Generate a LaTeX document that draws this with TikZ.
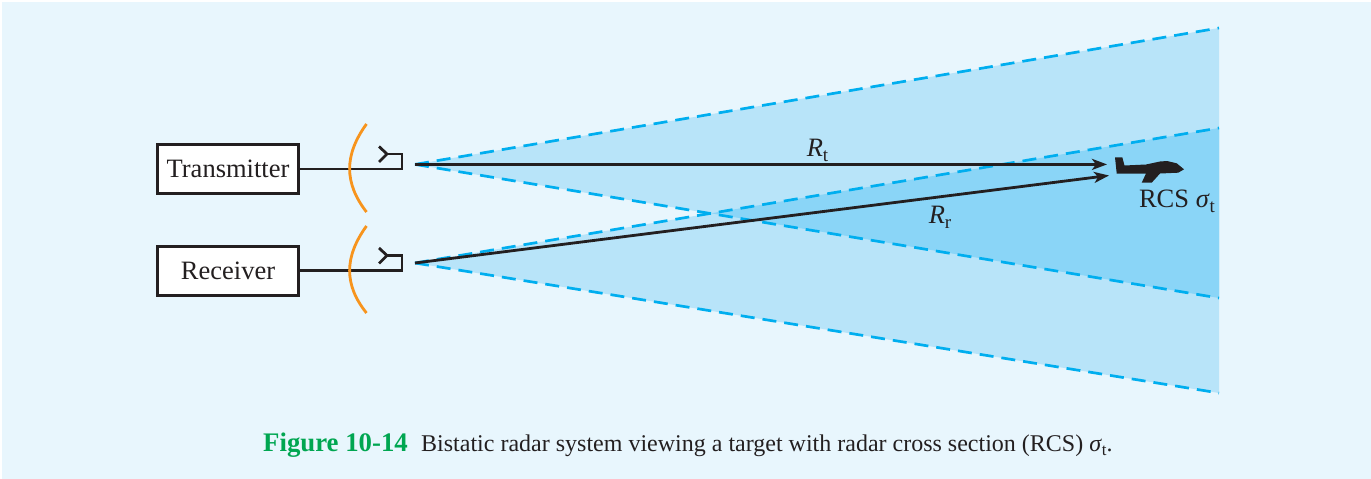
\documentclass[tikz,border=0pt]{standalone}
\usepackage{fontspec}
\setmainfont{Liberation Serif}
\definecolor{bgc}{HTML}{E8F6FD}
\definecolor{beamc}{HTML}{B8E4F9}
\definecolor{overc}{HTML}{8AD5F7}
\definecolor{dashc}{HTML}{00AEEF}
\definecolor{dishc}{HTML}{F7941D}
\definecolor{inkc}{HTML}{231F20}
\definecolor{figc}{HTML}{00A651}
\usetikzlibrary{arrows.meta}
\tikzset{
  unitbox/.style={draw=inkc,line width=3pt,fill=white,minimum width=141pt,minimum height=49pt,inner sep=0pt,text=inkc,font=\fontsize{26.5}{30}\selectfont},
  feedline/.style={draw=inkc,line width=2.8pt,line join=miter},
  dish/.style={draw=dishc,line width=2.8pt},
  beamedge/.style={draw=dashc,line width=2.7pt,dash pattern=on 14pt off 8pt},
  ray/.style={draw=inkc,line width=2.8pt,-{Stealth[length=15pt,width=11pt,inset=4pt]},shorten >=0pt},
  lbl/.style={text=inkc,inner sep=0pt,font=\fontsize{26.5}{30}\selectfont}
}
\begin{document}
\begin{tikzpicture}[x=1pt,y=-1pt]
\useasboundingbox (0,0) rectangle (1371,479);
\fill[white] (0,0) rectangle (1371,479);
\fill[bgc] (2,2) rectangle (1371,479);
% named points
\coordinate (ta) at (415,164.4);
\coordinate (ra) at (415,263);
\coordinate (t1) at (1219,28);
\coordinate (t2) at (1219,298);
\coordinate (r1) at (1219,128);
\coordinate (r2) at (1219,393);
\coordinate (xc) at (711,213.3);
% beams
\fill[beamc] (ta) -- (t1) -- (t2) -- cycle;
\fill[beamc] (ra) -- (r1) -- (r2) -- cycle;
\fill[overc] (xc) -- (r1) -- (t2) -- cycle;
\draw[beamedge] (ta) -- (t1);
\draw[beamedge] (ta) -- (t2);
\draw[beamedge] (ra) -- (r1);
\draw[beamedge] (ra) -- (r2);
% units
\node[unitbox] (tx) at (228,169) {Transmitter};
\node[unitbox] (rx) at (228,270.5) {Receiver};
% feeds
\coordinate (tc) at (402,169);
\coordinate (tf) at (387,154);
\coordinate (rc) at (402,270.5);
\coordinate (rf) at (387,255.5);
\draw[feedline] (tx.east) -- (tc) -- (402,154) -- (tf);
\draw[feedline] (379,146.5) -- (tf) -- (379,162);
\draw[feedline] (rx.east) -- (rc) -- (402,255.5) -- (rf);
\draw[feedline] (379,248) -- (rf) -- (379,263.5);
% dishes
\draw[dish] (366.5,124) .. controls (344,155) and (344,183) .. (366.5,212);
\draw[dish] (366.5,226) .. controls (344,257) and (344,285) .. (366.5,313);
% aircraft
\coordinate (pl) at (1107,164.4);
\coordinate (pr) at (1109,175.5);
\fill[inkc] (1115,157.3) -- (1122.3,157.3) -- (1124.5,165.5) -- (1146,164.5) -- (1160,161.5) -- (1167,161) -- (1176.7,163.3) -- (1184,169.3) -- (1178.3,172.7) -- (1160,173.5) -- (1151.7,182.7) -- (1141.7,182.7) -- (1146,173.5) -- (1116.7,173.5) -- cycle;
% rays
\draw[ray] (ta) -- (pl);
\draw[ray] (ra) -- (pr);
% labels
\node[lbl,anchor=base] (rt) at (817.5,156) {\textit{R}\raisebox{-0.2em}{\fontsize{19}{22}\selectfont t}};
\node[lbl,anchor=base] (rr) at (940,223) {\textit{R}\raisebox{-0.2em}{\fontsize{19}{22}\selectfont r}};
\node[lbl,anchor=base] (rcs) at (1177,207) {RCS \textit{σ}\raisebox{-0.2em}{\fontsize{19}{22}\selectfont t}};
\node[anchor=base west,inner sep=0pt,text=figc,font=\fontsize{26.8}{30}\selectfont\bfseries] (figlab) at (263,451) {Figure 10-14};
\node[anchor=base west,inner sep=0pt,text=inkc,font=\fontsize{24}{28}\selectfont] (cap) at (421,451) {Bistatic radar system viewing a target with radar cross section (RCS) \textit{σ}\raisebox{-0.2em}{\fontsize{17}{20}\selectfont t}.};
\end{tikzpicture}
\end{document}
